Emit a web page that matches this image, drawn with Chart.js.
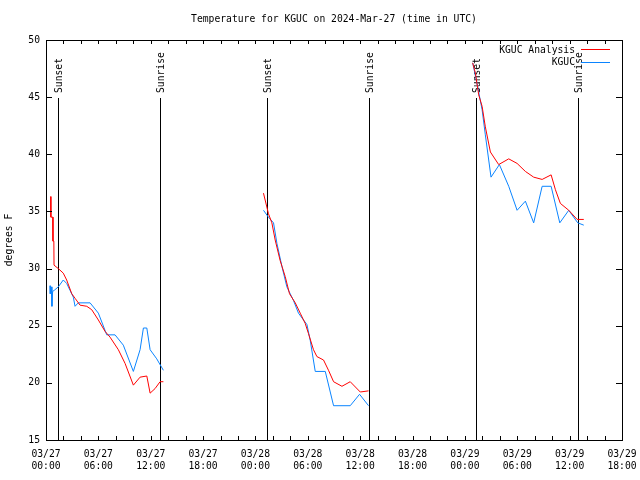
<!DOCTYPE html>
<html>
<head>
<meta charset="utf-8">
<script src="https://cdn.jsdelivr.net/npm/chart.js@4.4.1/dist/chart.umd.min.js"></script>
<style>
  html, body { margin: 0; padding: 0; background: #fff; }
  canvas { display: block; }
</style>
</head>
<body>
<canvas id="temps" width="640" height="480"></canvas>
<script>
var FONT = '"DejaVu Sans Mono", "Liberation Mono", monospace';

// x axis is hours since 03/27 00:00 UTC
var dayLabels = ['03/27', '03/27', '03/27', '03/27', '03/28', '03/28', '03/28', '03/28', '03/29', '03/29', '03/29', '03/29'];
var timeLabels = ['00:00', '06:00', '12:00', '18:00', '00:00', '06:00', '12:00', '18:00', '00:00', '06:00', '12:00', '18:00'];
var yTicks = [15, 20, 25, 30, 35, 40, 45, 50];

var eventHours = [1.41, 13.07, 25.38, 36.96, 49.31, 60.93];
var eventNames = ['Sunset', 'Sunrise', 'Sunset', 'Sunrise', 'Sunset', 'Sunrise'];

// KGUC Analysis (null = gap between nights)
var analysisHours = [0.54, 0.56, 0.78, 0.80, 0.90, 0.92, 1.41, 1.98, 2.37, 2.95, 3.33, 3.90, 4.67, 5.24, 6.00, 6.77, 7.34, 8.29, 9.06, 10.01, 10.78, 11.55, 11.93, 12.5, 13.07, 13.45,
  13.5,
  24.92, 25.49, 25.88, 26.26, 26.83, 27.41, 27.90, 28.56, 29.13, 29.70, 30.08, 30.65, 31.04, 31.80, 32.37, 32.95, 33.91, 34.86, 36.01, 36.96,
  37.0,
  48.89, 49.2, 49.58, 49.97, 50.34, 50.92, 51.87, 53.02, 53.98, 54.93, 55.88, 56.85, 57.88, 58.37, 58.94, 59.9, 60.86, 61.62];
var analysisTemps = [36.3, 34.5, 34.5, 32.4, 32.4, 30.3, 30.0, 29.6, 29.0, 27.8, 27.4, 26.8, 26.7, 26.4, 25.5, 24.5, 24.0, 22.9, 21.7, 19.8, 20.5, 20.6, 19.1, 19.5, 20.1, 20.1,
  null,
  36.6, 34.8, 34.0, 32.5, 30.7, 29.3, 27.8, 27.0, 26.1, 25.2, 24.3, 22.9, 22.3, 22.0, 21.1, 20.1, 19.7, 20.1, 19.2, 19.3,
  null,
  48.0, 47.1, 45.2, 44.2, 42.4, 40.2, 39.1, 39.6, 39.2, 38.5, 38.0, 37.8, 38.2, 36.9, 35.7, 35.1, 34.3, 34.3];

// KGUC observations
var obsHours = [0.46, 0.49, 0.60, 0.68, 0.76, 0.95, 1.41, 1.98, 2.37, 2.75, 3.13, 3.33, 3.70, 5.05, 6.00, 6.96, 7.91, 8.86, 10.01, 10.78, 11.16, 11.55, 11.93, 12.69, 13.45,
  13.5,
  24.92, 25.49, 26.07, 26.46, 27.03, 27.60, 28.36, 28.93, 29.51, 29.90, 30.28, 30.85, 32.0, 32.95, 34.86, 35.93, 36.96,
  37.0,
  48.89, 49.39, 49.97, 50.34, 50.99, 51.95, 53.02, 53.98, 54.93, 55.88, 56.85, 57.88, 58.87, 59.9, 60.93, 61.62];
var obsTemps = [28.5, 27.8, 28.4, 26.7, 28.0, 28.1, 28.4, 29.0, 28.7, 28.1, 27.5, 26.7, 27.0, 27.0, 26.1, 24.2, 24.2, 23.3, 21.0, 22.9, 24.8, 24.8, 22.9, 22.1, 21.1,
  null,
  35.1, 34.5, 34.0, 32.2, 30.2, 28.4, 27.2, 26.1, 25.5, 25.1, 23.7, 21.0, 21.0, 18.0, 18.0, 19.0, 18.0,
  null,
  48.0, 46.2, 43.9, 41.7, 38.0, 39.1, 37.2, 35.1, 35.9, 34.0, 37.2, 37.2, 34.0, 35.1, 34.0, 33.8];

function toPoints(hours, temps) {
  return hours.map(function (h, i) { return { x: h, y: temps[i] }; });
}

function px(v) { return Math.round(v) + 0.5; }

var gnuplotDecor = {
  id: 'gnuplotDecor',
  beforeDatasetsDraw: function (chart) {
    var ctx = chart.ctx, a = chart.chartArea, xs = chart.scales.x;
    ctx.save();
    ctx.strokeStyle = '#000';
    ctx.lineWidth = 1;
    ctx.fillStyle = '#000';
    ctx.font = '9.7px ' + FONT;
    for (var i = 0; i < eventHours.length; i++) {
      var x = px(xs.getPixelForValue(eventHours[i]));
      ctx.beginPath();
      ctx.moveTo(x, 98);
      ctx.lineTo(x, a.bottom);
      ctx.stroke();
      ctx.save();
      ctx.translate(x + 1, 93);
      ctx.rotate(-Math.PI / 2);
      ctx.textAlign = 'left';
      ctx.textBaseline = 'middle';
      ctx.fillText(eventNames[i], 0, 0);
      ctx.restore();
    }
    ctx.restore();
  },
  afterDraw: function (chart) {
    var ctx = chart.ctx, a = chart.chartArea, xs = chart.scales.x, ys = chart.scales.y;
    ctx.save();
    ctx.strokeStyle = '#000';
    ctx.lineWidth = 1;
    ctx.strokeRect(px(a.left), px(a.top), Math.round(a.right - a.left), Math.round(a.bottom - a.top));
    ctx.beginPath();
    // x ticks every 2 hours, top and bottom
    for (var h = 2; h < 66; h += 2) {
      var x = px(xs.getPixelForValue(h));
      ctx.moveTo(x, a.bottom); ctx.lineTo(x, a.bottom - 4);
      ctx.moveTo(x, a.top); ctx.lineTo(x, a.top + 4);
    }
    // y ticks, left and right
    yTicks.forEach(function (t) {
      var y = px(ys.getPixelForValue(t));
      ctx.moveTo(a.left, y); ctx.lineTo(a.left + 6, y);
      ctx.moveTo(a.right, y); ctx.lineTo(a.right - 6, y);
    });
    ctx.stroke();

    ctx.fillStyle = '#000';
    ctx.font = '9.7px ' + FONT;
    ctx.textAlign = 'center';
    ctx.textBaseline = 'middle';
    ctx.fillText('Temperature for KGUC on 2024-Mar-27 (time in UTC)', (a.left + a.right) / 2, 19);

    // legend
    ctx.textAlign = 'right';
    ctx.fillText('KGUC Analysis', 575, 50);
    ctx.fillText('KGUC', 575, 62);
    ctx.strokeStyle = '#ff0000';
    ctx.beginPath(); ctx.moveTo(581, 49.5); ctx.lineTo(610, 49.5); ctx.stroke();
    ctx.strokeStyle = '#0a84ff';
    ctx.beginPath(); ctx.moveTo(581, 62.5); ctx.lineTo(610, 62.5); ctx.stroke();
    ctx.restore();
  }
};

var ctx = document.getElementById('temps');
var myChart = new Chart(ctx, {
  type: 'line',
  data: {
    datasets: [{
      label: 'KGUC Analysis',
      data: toPoints(analysisHours, analysisTemps),
      borderColor: '#ff0000',
      borderWidth: 1,
      pointRadius: 0,
      tension: 0,
      spanGaps: false
    }, {
      label: 'KGUC',
      data: toPoints(obsHours, obsTemps),
      borderColor: '#0a84ff',
      borderWidth: 1,
      pointRadius: 0,
      tension: 0,
      spanGaps: false
    }]
  },
  options: {
    responsive: false,
    animation: false,
    layout: { padding: { left: 0, right: 18, top: 40, bottom: 0 } },
    plugins: {
      legend: { display: false },
      tooltip: { enabled: false }
    },
    scales: {
      x: {
        type: 'linear',
        min: 0,
        max: 66,
        afterFit: function (s) {
          s.height = 40;
          s.paddingLeft = 0;
          s.paddingRight = 0;
        },
        grid: { display: false, drawTicks: false },
        border: { display: false },
        ticks: {
          stepSize: 6,
          autoSkip: false,
          maxRotation: 0,
          padding: 9,
          color: '#000',
          font: { family: FONT, size: 9.7 },
          callback: function (v) {
            var i = Math.round(v / 6);
            return [dayLabels[i], timeLabels[i]];
          }
        }
      },
      y: {
        min: 15,
        max: 50,
        afterFit: function (s) { s.width = 46; },
        grid: { display: false, drawTicks: false },
        border: { display: false },
        title: {
          display: true,
          text: 'degrees F',
          color: '#000',
          padding: { top: 4, bottom: 4 },
          font: { family: FONT, size: 9.7 }
        },
        ticks: {
          stepSize: 5,
          padding: 6,
          color: '#000',
          font: { family: FONT, size: 9.7 }
        }
      }
    }
  },
  plugins: [gnuplotDecor]
});
</script>
</body>
</html>
